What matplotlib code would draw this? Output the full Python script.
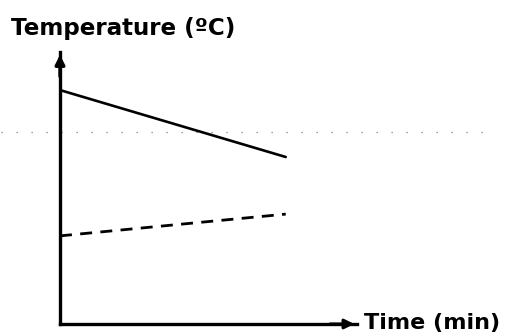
import matplotlib
matplotlib.use("Agg")
import matplotlib.pyplot as plt

# cooling of the hot body vs. warming of the cold one, sketched over time
time = [0.0, 7.6]
hot_temp = [86.0, 61.4]
cold_temp = [32.4, 40.4]
# faint room-temperature guide, runs past both sides of the plot
room_time = [-2.0, 14.6]
room_temp = [70.6, 70.6]

plt.rcParams["font.family"] = ["DejaVu Sans"]

fig = plt.figure(figsize=(5.05, 3.36), dpi=100)
ax = fig.add_axes([60 / 505, 12 / 336, 297 / 505, 272 / 336])
ax.set_xlim(0, 10)
ax.set_ylim(0, 100)

ax.plot(room_time, room_temp, color="0.5", lw=0.9,
        linestyle=(0, (1, 11)), clip_on=False)
ax.plot(time, hot_temp, color="black", lw=1.9, solid_capstyle="round")
ax.plot(time, cold_temp, color="black", lw=2.0, dashes=(4.3, 3.0))

for side in ("top", "right"):
    ax.spines[side].set_visible(False)
for side in ("left", "bottom"):
    ax.spines[side].set_linewidth(2.4)
ax.set_xticks([])
ax.set_yticks([])

# arrow heads on both axes
ax.annotate("", xy=(0, 1.0), xytext=(0, 0.9), xycoords="axes fraction",
            arrowprops=dict(arrowstyle="-|>", color="black", lw=2.4,
                            mutation_scale=14))
ax.annotate("", xy=(1.0, 0), xytext=(0.9, 0), xycoords="axes fraction",
            arrowprops=dict(arrowstyle="-|>", color="black", lw=2.2,
                            mutation_scale=14))

fig.text(11 / 505, 1 - 29 / 336, "Temperature (ºC)", fontsize=16.6,
         fontweight="bold", va="center", ha="left")
fig.text(364 / 505, 1 - 323 / 336, "Time (min)", fontsize=16,
         fontweight="bold", va="center", ha="left")

fig.savefig("out.png", dpi=100)
